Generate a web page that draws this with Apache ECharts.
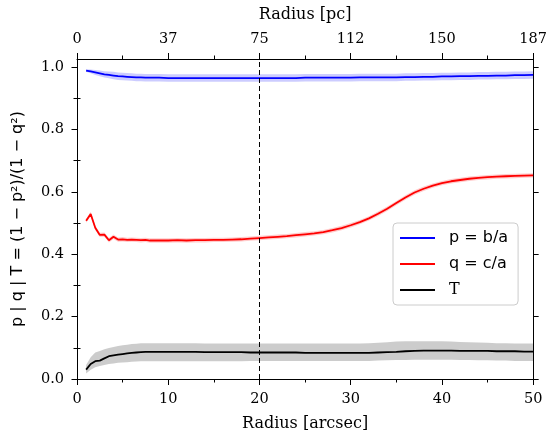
<!DOCTYPE html>
<html>
<head>
<meta charset="utf-8">
<script src="https://cdn.jsdelivr.net/npm/echarts@6/dist/echarts.min.js"></script>
<style>
  html, body { margin: 0; padding: 0; background: #fff; }
  #chart { width: 550px; height: 437px; }
</style>
</head>
<body>
<div id="chart"></div>
<script>
// Radial profiles of the axis ratios and triaxiality parameter
const radius = [1, 1.5, 2, 2.5, 3, 3.5, 4, 4.5, 5, 5.5, 6, 6.5, 7, 7.5, 8,
  9, 10, 11, 12, 13, 14, 15, 16, 17, 18, 19, 20, 21, 22, 23, 24, 25, 26, 27, 28, 29,
  30, 31, 32, 33, 34, 35, 36, 37, 38, 39, 40, 41, 42, 43, 44, 45, 46, 47, 48, 49, 50];

// p = b/a
const pVal = [0.989, 0.986, 0.983, 0.980, 0.977, 0.975, 0.973, 0.971, 0.970, 0.969, 0.968, 0.967, 0.967, 0.966, 0.966,
  0.966, 0.965, 0.965, 0.965, 0.965, 0.965, 0.965, 0.965, 0.965, 0.965, 0.965, 0.965, 0.965, 0.965, 0.965, 0.965, 0.966, 0.966, 0.966, 0.966, 0.966,
  0.966, 0.967, 0.967, 0.967, 0.967, 0.967, 0.968, 0.968, 0.969, 0.969, 0.970, 0.970, 0.971, 0.971, 0.972, 0.972, 0.973, 0.973, 0.974, 0.974, 0.975];
const pErr = [0.004, 0.006, 0.008, 0.009, 0.010, 0.011, 0.012, 0.012, 0.012, 0.012, 0.012, 0.012, 0.012, 0.012, 0.012,
  0.012, 0.012, 0.012, 0.012, 0.012, 0.012, 0.012, 0.012, 0.012, 0.012, 0.012, 0.012, 0.012, 0.012, 0.012, 0.012, 0.012, 0.012, 0.012, 0.012, 0.012,
  0.012, 0.012, 0.012, 0.012, 0.012, 0.012, 0.012, 0.012, 0.012, 0.012, 0.012, 0.012, 0.012, 0.012, 0.012, 0.012, 0.012, 0.012, 0.012, 0.012, 0.012];

// q = c/a
const qVal = [0.507, 0.529, 0.485, 0.462, 0.463, 0.445, 0.456, 0.447, 0.448, 0.446, 0.447, 0.446, 0.445, 0.446, 0.444,
  0.444, 0.444, 0.445, 0.444, 0.445, 0.445, 0.446, 0.446, 0.447, 0.448, 0.450, 0.452, 0.454, 0.456, 0.458, 0.461, 0.464, 0.467, 0.471, 0.477, 0.484,
  0.493, 0.503, 0.515, 0.530, 0.546, 0.564, 0.582, 0.598, 0.610, 0.620, 0.628, 0.634, 0.638, 0.642, 0.645, 0.647, 0.649, 0.650, 0.651, 0.652, 0.653];
const qErr = [0.006, 0.007, 0.007, 0.007, 0.007, 0.007, 0.007, 0.007, 0.007, 0.007, 0.007, 0.007, 0.007, 0.007, 0.007,
  0.007, 0.007, 0.007, 0.007, 0.007, 0.007, 0.007, 0.007, 0.007, 0.007, 0.007, 0.007, 0.007, 0.007, 0.007, 0.007, 0.007, 0.007, 0.007, 0.007, 0.007,
  0.007, 0.007, 0.007, 0.007, 0.007, 0.007, 0.007, 0.007, 0.007, 0.007, 0.007, 0.007, 0.007, 0.007, 0.007, 0.007, 0.007, 0.007, 0.007, 0.007, 0.007];

// T = (1 - p^2) / (1 - q^2)
const tVal = [0.030, 0.048, 0.057, 0.059, 0.066, 0.073, 0.076, 0.078, 0.080, 0.082, 0.084, 0.085, 0.086, 0.087, 0.087,
  0.087, 0.087, 0.087, 0.087, 0.087, 0.086, 0.086, 0.086, 0.086, 0.086, 0.085, 0.085, 0.085, 0.085, 0.085, 0.085, 0.084, 0.084, 0.084, 0.084, 0.084,
  0.084, 0.084, 0.084, 0.085, 0.086, 0.087, 0.089, 0.090, 0.091, 0.091, 0.091, 0.091, 0.090, 0.090, 0.090, 0.090, 0.089, 0.089, 0.089, 0.088, 0.088];
const tLo = [0.018, 0.030, 0.038, 0.042, 0.045, 0.048, 0.050, 0.052, 0.053, 0.054, 0.055, 0.056, 0.057, 0.057, 0.057,
  0.057, 0.057, 0.057, 0.057, 0.057, 0.057, 0.057, 0.057, 0.057, 0.057, 0.058, 0.058, 0.058, 0.058, 0.058, 0.058, 0.058, 0.058, 0.058, 0.058, 0.058,
  0.058, 0.058, 0.058, 0.059, 0.060, 0.061, 0.061, 0.062, 0.062, 0.062, 0.062, 0.062, 0.061, 0.061, 0.060, 0.060, 0.059, 0.059, 0.058, 0.058, 0.058];
const tHi = [0.045, 0.070, 0.085, 0.090, 0.095, 0.099, 0.103, 0.106, 0.108, 0.110, 0.112, 0.113, 0.115, 0.115, 0.115,
  0.115, 0.115, 0.115, 0.115, 0.115, 0.114, 0.114, 0.114, 0.114, 0.114, 0.114, 0.114, 0.114, 0.114, 0.114, 0.114, 0.114, 0.114, 0.114, 0.114, 0.114,
  0.114, 0.114, 0.115, 0.116, 0.118, 0.120, 0.121, 0.121, 0.121, 0.121, 0.121, 0.120, 0.119, 0.118, 0.117, 0.116, 0.115, 0.115, 0.114, 0.114, 0.114];

// Axis ticks and labels
const xTicks = [0, 10, 20, 30, 40, 50];
const pcLabels = ['0', '37', '75', '112', '150', '187'];
const yMajor = [0, 0.2, 0.4, 0.6, 0.8, 1.0];
const yMinor = [0.1, 0.3, 0.5, 0.7, 0.9];
const splitRadius = 20;

const SERIF = 'DejaVu Serif';
const SANS = 'DejaVu Sans';
const Y_MAX = 1.026;
// thin horizontal bar used as the legend key
const LEGEND_LINE = 'path://M0,0 L35,0 L35,2 L0,2 Z';

function bandSeries(name, lo, hi, color) {
  return {
    name: name,
    type: 'custom',
    silent: true,
    z: 1,
    clip: true,
    data: radius.map((r, i) => [r, lo[i], hi[i]]),
    encode: { x: 0, y: [1, 2] },
    renderItem: function (params, api) {
      if (params.dataIndex !== 0) return null;
      const pts = [];
      for (let i = 0; i < radius.length; i++) pts.push(api.coord([radius[i], hi[i]]));
      for (let i = radius.length - 1; i >= 0; i--) pts.push(api.coord([radius[i], lo[i]]));
      return { type: 'polygon', shape: { points: pts }, style: { fill: color } };
    }
  };
}

function lineSeries(name, vals, color, extra) {
  return Object.assign({
    name: name,
    type: 'line',
    data: radius.map((r, i) => [r, vals[i]]),
    symbol: 'none',
    z: 3,
    lineStyle: { color: color, width: 1.8 },
    itemStyle: { color: color },
    emphasis: { disabled: true }
  }, extra || {});
}

const pLo = pVal.map((v, i) => v - pErr[i]);
const pHi = pVal.map((v, i) => v + pErr[i]);
const qLo = qVal.map((v, i) => v - qErr[i]);
const qHi = qVal.map((v, i) => v + qErr[i]);

const axisLineStyle = { show: true, onZero: false, lineStyle: { color: '#000', width: 1 } };

function xAxisDef(pos, labels, name, nameGap, margin) {
  return {
    type: 'value', position: pos, min: 0, max: 50, interval: 10,
    axisLine: axisLineStyle,
    axisTick: { show: true, inside: false, length: 6, lineStyle: { color: '#000', width: 1 } },
    minorTick: { show: true, splitNumber: 2, length: 3.5, lineStyle: { color: '#000', width: 1 } },
    splitLine: { show: false }, minorSplitLine: { show: false },
    axisLabel: {
      margin: margin,
      fontFamily: SERIF, fontSize: 14.5, color: '#000',
      formatter: v => labels[xTicks.indexOf(v)]
    },
    name: name, nameLocation: 'middle', nameGap: nameGap,
    nameTextStyle: { fontFamily: SERIF, fontSize: 16, color: '#000' }
  };
}

function yAxisDef(pos, ticks, len, withLabel, withLine) {
  const ax = {
    type: 'value', position: pos, min: 0, max: Y_MAX, interval: 0.1,
    axisLine: withLine ? axisLineStyle : { show: false },
    axisTick: { show: true, inside: false, length: len, customValues: ticks, lineStyle: { color: '#000', width: 1 } },
    splitLine: { show: false },
    axisLabel: withLabel ? {
      show: true, margin: 13, customValues: ticks,
      fontFamily: SERIF, fontSize: 14.5, color: '#000',
      formatter: v => v.toFixed(1)
    } : { show: false }
  };
  if (withLabel) {
    ax.name = 'p | q | T = (1 \u2212 p\u00B2)/(1 \u2212 q\u00B2)';
    ax.nameLocation = 'middle';
    ax.nameRotate = 90;
    ax.nameGap = 51;
    ax.nameTextStyle = { fontFamily: SANS, fontSize: 16, color: '#000' };
  }
  return ax;
}

const legendText = { fontFamily: SANS, fontSize: 16, color: '#000', lineHeight: 18, padding: [0, 0, 0, 9] };

const chart = echarts.init(document.getElementById('chart'), null, { renderer: 'canvas' });
chart.setOption({
  animation: false,
  backgroundColor: '#fff',
  grid: { left: 77, right: 15, top: 59, bottom: 56, containLabel: false },
  xAxis: [
    xAxisDef('bottom', xTicks.map(String), 'Radius [arcsec]', 37, 13),
    xAxisDef('top', pcLabels, 'Radius [pc]', 36, 12)
  ],
  yAxis: [
    yAxisDef('left', yMajor, 5.5, true, true),
    yAxisDef('right', yMajor, 5.5, false, true),
    yAxisDef('left', yMinor, 3.5, false, false),
    yAxisDef('right', yMinor, 3.5, false, false)
  ],
  legend: {
    orient: 'vertical',
    left: 393, top: 223,
    padding: [6, 10, 6, 7],
    itemGap: 8,
    itemWidth: 35, itemHeight: 14,
    icon: LEGEND_LINE,
    symbolKeepAspect: true,
    backgroundColor: 'rgba(255,255,255,0.85)',
    borderColor: '#cccccc', borderWidth: 1, borderRadius: 4,
    textStyle: legendText,
    data: [
      { name: 'p = b/a' },
      { name: 'q = c/a' },
      { name: 'T', textStyle: Object.assign({}, legendText, { fontFamily: SERIF }) }
    ]
  },
  series: [
    bandSeries('pBand', pLo, pHi, 'rgba(0,0,255,0.2)'),
    bandSeries('qBand', qLo, qHi, 'rgba(255,0,0,0.2)'),
    bandSeries('tBand', tLo, tHi, 'rgba(0,0,0,0.2)'),
    lineSeries('p = b/a', pVal, '#0000ff'),
    lineSeries('q = c/a', qVal, '#ff0000'),
    lineSeries('T', tVal, '#000000', {
      markLine: {
        silent: true, symbol: 'none', label: { show: false },
        lineStyle: { color: '#000', type: [5, 3], width: 1 },
        data: [{ xAxis: splitRadius }]
      }
    })
  ]
});
</script>
</body>
</html>
